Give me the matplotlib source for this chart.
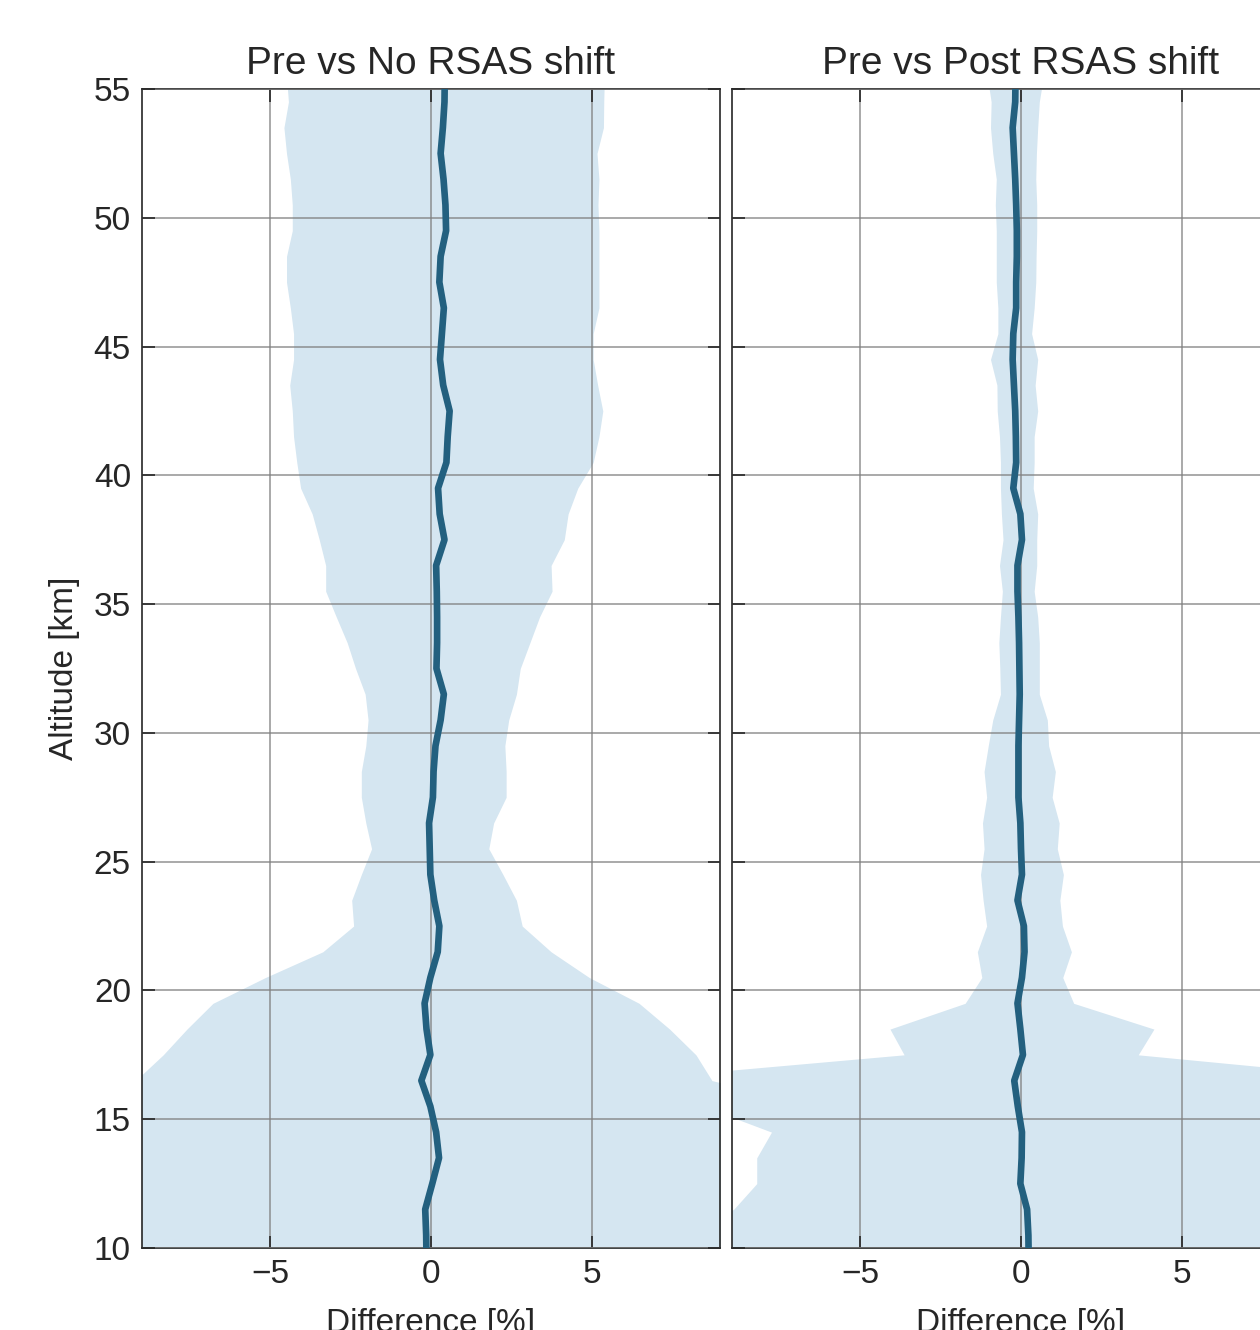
import numpy as np
import matplotlib
matplotlib.use("Agg")
import matplotlib.pyplot as plt

# altitude levels [km], top to bottom
alt = [55.5, 54.5, 53.5, 52.5, 51.5, 50.5, 49.5, 48.5, 47.5, 46.5,
       45.5, 44.5, 43.5, 42.5, 41.5, 40.5, 39.5, 38.5, 37.5, 36.5,
       35.5, 34.5, 33.5, 32.5, 31.5, 30.5, 29.5, 28.5, 27.5, 26.5,
       25.5, 24.5, 23.5, 22.5, 21.5, 20.5, 19.5, 18.5, 17.5, 16.5,
       15.5, 14.5, 13.5, 12.5, 11.5, 10.5, 9.5]

# Pre vs No RSAS shift
no_mean = [0.43, 0.42, 0.37, 0.30, 0.39, 0.45, 0.47, 0.30, 0.26, 0.40,
           0.34, 0.28, 0.38, 0.58, 0.52, 0.48, 0.22, 0.27, 0.42, 0.16,
           0.18, 0.19, 0.19, 0.17, 0.40, 0.30, 0.14, 0.08, 0.06, -0.06,
           -0.04, -0.02, 0.10, 0.26, 0.21, -0.02, -0.20, -0.14, -0.02, -0.30,
           -0.02, 0.16, 0.25, 0.04, -0.18, -0.15, -0.14]
no_lo = [-4.50, -4.44, -4.58, -4.50, -4.38, -4.32, -4.32, -4.50, -4.50, -4.38,
         -4.28, -4.28, -4.40, -4.32, -4.28, -4.18, -4.06, -3.70, -3.48, -3.28,
         -3.28, -2.95, -2.61, -2.35, -2.05, -1.96, -2.03, -2.17, -2.17, -2.03,
         -1.85, -2.17, -2.47, -2.41, -3.37, -5.16, -6.79, -7.60, -8.34, -9.20,
         -12.0, -12.0, -12.0, -12.0, -12.0, -12.0, -12.0]
no_hi = [5.40, 5.38, 5.37, 5.17, 5.23, 5.20, 5.23, 5.23, 5.23, 5.23,
         5.05, 5.05, 5.19, 5.35, 5.23, 5.05, 4.57, 4.27, 4.15, 3.74,
         3.77, 3.38, 3.08, 2.78, 2.66, 2.42, 2.30, 2.34, 2.34, 1.95,
         1.80, 2.24, 2.66, 2.84, 3.74, 4.93, 6.48, 7.43, 8.25, 8.75,
         12.0, 12.0, 12.0, 12.0, 12.0, 12.0, 12.0]

# Pre vs Post RSAS shift
post_mean = [-0.17, -0.18, -0.26, -0.22, -0.18, -0.15, -0.13, -0.13, -0.15, -0.15,
             -0.24, -0.26, -0.22, -0.18, -0.16, -0.15, -0.24, -0.02, 0.03, -0.11,
             -0.11, -0.08, -0.06, -0.05, -0.04, -0.06, -0.08, -0.08, -0.08, -0.02,
             0.00, 0.03, -0.11, 0.09, 0.11, 0.03, -0.11, -0.02, 0.06, -0.21,
             -0.10, 0.03, 0.02, -0.02, 0.19, 0.23, 0.24]
post_lo = [-1.05, -0.93, -0.95, -0.88, -0.77, -0.80, -0.77, -0.77, -0.77, -0.72,
           -0.72, -0.95, -0.75, -0.74, -0.67, -0.64, -0.64, -0.61, -0.56, -0.67,
           -0.58, -0.64, -0.69, -0.66, -0.64, -0.88, -1.02, -1.15, -1.07, -1.20,
           -1.15, -1.26, -1.18, -1.07, -1.36, -1.22, -1.74, -4.08, -3.64, -12.7,
           -9.90, -7.77, -8.23, -8.23, -8.95, -10.5, -11.0]
post_hi = [0.70, 0.57, 0.52, 0.48, 0.46, 0.49, 0.49, 0.47, 0.46, 0.41,
           0.33, 0.52, 0.44, 0.52, 0.41, 0.41, 0.38, 0.52, 0.49, 0.49,
           0.41, 0.52, 0.57, 0.57, 0.57, 0.82, 0.86, 1.07, 0.97, 1.19,
           1.13, 1.32, 1.21, 1.29, 1.57, 1.30, 1.64, 4.14, 3.65, 12.0,
           12.0, 12.0, 12.0, 12.0, 12.0, 12.0, 12.0]

titles = ["Pre vs No RSAS shift", "Pre vs Post RSAS shift"]

plt.rcParams['font.family'] = ['Liberation Sans', 'DejaVu Sans']

fill_col = '#d5e6f1'
line_col = '#23607f'
txt_col = '#262626'

fig = plt.figure(figsize=(12.6, 13.3), dpi=100)
ax1 = fig.add_axes([142/1260, 82/1330, 578/1260, 1159/1330])
ax2 = fig.add_axes([732/1260, 82/1330, 578/1260, 1159/1330])

series = [(no_mean, no_lo, no_hi), (post_mean, post_lo, post_hi)]
for i, ax in enumerate([ax1, ax2]):
    m, lo, hi = series[i]
    ax.fill_betweenx(alt, lo, hi, color=fill_col, lw=0, zorder=1)
    ax.plot(m, alt, color=line_col, lw=4.8, zorder=3)
    ax.set_xlim(-9, 9)
    ax.set_ylim(10, 55)
    ax.set_xticks([-5, 0, 5])
    ax.set_yticks(np.arange(10, 56, 5))
    ax.grid(True, color='#7f7f7f', lw=1.1, alpha=0.85, zorder=2)
    ax.set_axisbelow(False)
    ax.tick_params(direction='in', length=9, width=1.2, colors=txt_col,
                   labelsize=24, top=True, right=True, pad=8)
    for sp in ax.spines.values():
        sp.set_color(txt_col)
        sp.set_linewidth(1.2)
    ax.set_title(titles[i], fontsize=28, color=txt_col, pad=11)
    ax.set_xlabel("Difference [%]", fontsize=24, color=txt_col, labelpad=13)

ax1.set_ylabel("Altitude [km]", fontsize=24, color=txt_col, labelpad=10)
ax2.set_yticklabels([])

fig.savefig("out.png", dpi=100)
